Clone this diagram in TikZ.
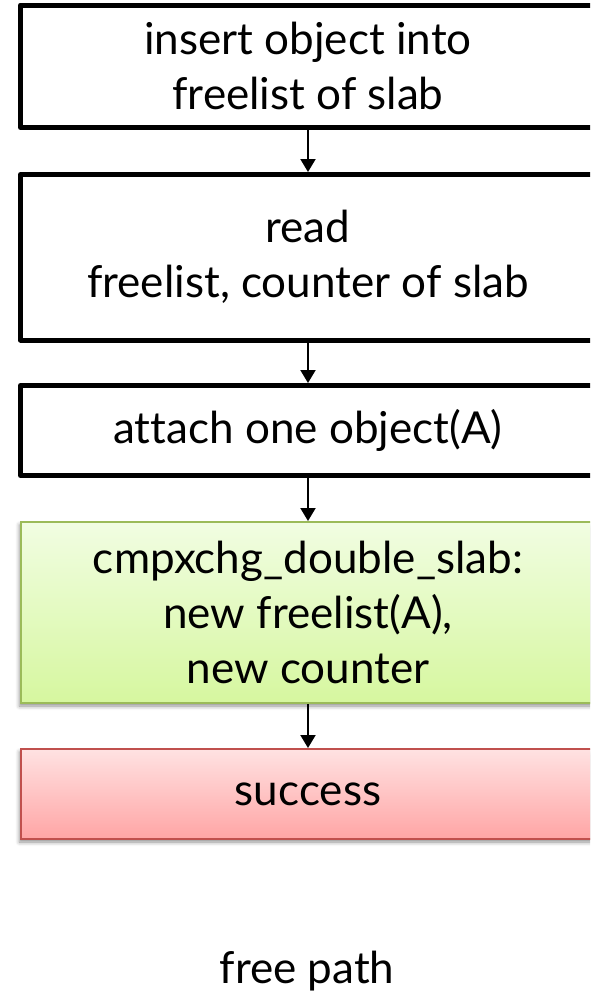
\documentclass[tikz,border=0pt]{standalone}
\usepackage{fontspec}
\setmainfont{Lato}[Ligatures=NoCommon]
\usetikzlibrary{arrows.meta,shadows.blur}

\definecolor{greenedge}{HTML}{9BBB59}
\definecolor{greentop}{HTML}{F1FDE2}
\definecolor{greenbot}{HTML}{D6F79F}
\definecolor{rededge}{HTML}{C0504D}
\definecolor{redtop}{HTML}{FFE2E2}
\definecolor{redbot}{HTML}{FFA5A5}

\tikzset{
  boxtext/.style={font=\fontsize{44}{55}\selectfont, align=center, inner sep=0pt,
                  minimum width=575pt, text=black},
  plainbox/.style={boxtext, draw=black, line width=5pt, fill=white, line join=round},
  softshadow/.style={blur shadow={shadow xshift=-1pt, shadow yshift=-3pt,
                  shadow blur radius=4pt, shadow opacity=45}},
  greenbox/.style={boxtext, draw=greenedge, line width=2pt, softshadow,
                  top color=greentop, bottom color=greenbot},
  redbox/.style={boxtext, draw=rededge, line width=2pt, softshadow,
                  top color=redtop, bottom color=redbot},
  flow/.style={draw=black, line width=2pt, -{Triangle[width=15pt,length=13pt]}}
}

\begin{document}
\begin{tikzpicture}[x=1pt,y=-1pt]
  \useasboundingbox (0,0) rectangle (590,993);
  \clip (0,0) rectangle (590,993);

  % steps of the free path, top to bottom
  \node[plainbox, minimum height=122.5pt] (insert) at (308,66.25)
    {insert object into\\freelist of slab};
  \node[plainbox, minimum height=165.5pt] (read) at (308,257.25)
    {read\\freelist, counter of slab};
  \node[plainbox, minimum height=90pt] (attach) at (308,430.5)
    {attach one object(A)};
  \node[greenbox, minimum height=181pt] (cmpx) at (308,612.5)
    {cmpxchg\_double\_slab:\\new freelist(A),\\new counter};
  \node[redbox, minimum height=90pt] (success) at (308,794)
    {success};

  % caption
  \node[font=\fontsize{44}{55}\selectfont, anchor=base, inner sep=0pt] (caption) at (307,983)
    {free path};

  % connectors
  \draw[flow] (insert.south) -- (read.north);
  \draw[flow] (read.south) -- (attach.north);
  \draw[flow] (attach.south) -- (cmpx.north);
  \draw[flow] (cmpx.south) -- (success.north);
\end{tikzpicture}
\end{document}
